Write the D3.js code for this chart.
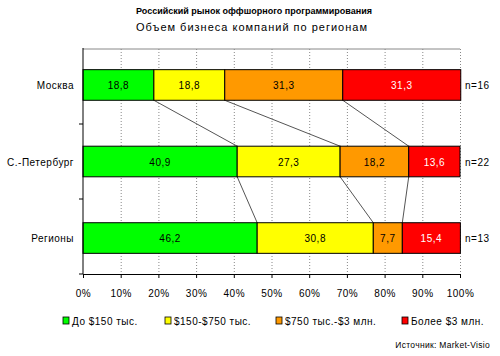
<!DOCTYPE html>
<html><head><meta charset="utf-8">
<script src="https://cdn.jsdelivr.net/npm/d3@7"></script>
<style>body{margin:0;background:#fff}text{font-family:Arial,"Liberation Sans",sans-serif}</style>
</head><body>
<svg id="c" width="500" height="356"></svg>
<script>
const categories = ["Москва", "С.-Петербург", "Регионы"];
const nLabels = ["n=16", "n=22", "n=13"];
const seriesNames = ["До $150 тыс.", "$150-$750 тыс.", "$750 тыс.-$3 млн.", "Более $3 млн."];
const seriesColors = ["#00ff00", "#ffff00", "#ff9900", "#ff0000"];
const valUpTo150 = [18.8, 40.9, 46.2];
const val150to750 = [18.8, 27.3, 30.8];
const val750to3m = [31.3, 18.2, 7.7];
const valOver3m = [31.3, 13.6, 15.4];
const xTicks = [0,10,20,30,40,50,60,70,80,90,100];

const series = [valUpTo150, val150to750, val750to3m, valOver3m];
const svg = d3.select("#c");
const x = d3.scaleLinear().domain([0,100]).range([83,460]);
const y = d3.scaleBand().domain(categories).range([49,274]).paddingInner(0.6).paddingOuter(0.27);
const yOuter = d3.scaleBand().domain(categories).range([49,274]);
const LS = "0.5px";

// titles
svg.append("text").attr("x",254).attr("y",14).attr("text-anchor","middle").attr("font-size",9).attr("font-weight","bold").text("Российский рынок оффшорного программирования");
svg.append("text").attr("x",252).attr("y",31).attr("text-anchor","middle").attr("font-size",11).attr("letter-spacing","1px").text("Объем бизнеса компаний по регионам");

// top border
svg.append("line").attr("x1",x(0)).attr("x2",x(100)).attr("y1",49).attr("y2",49).attr("stroke","#888");
// gridlines
xTicks.slice(1).forEach(t=>{
  svg.append("line").attr("x1",x(t)+0.5).attr("x2",x(t)+0.5).attr("y1",49).attr("y2",274)
    .attr("stroke","#888").attr("stroke-dasharray","1,2");
});

// stacked data
const stacks = categories.map((c,i)=>{
  let acc=0; return series.map((s,j)=>{const d={cat:c,j,v:s[i],x0:acc,x1:acc+s[i]}; acc+=s[i]; return d;});
});

// connector lines
for(let i=0;i<categories.length-1;i++){
  for(let j=0;j<3;j++){
    svg.append("line")
      .attr("x1",x(stacks[i][j].x1)).attr("y1",y(categories[i])+y.bandwidth())
      .attr("x2",x(stacks[i+1][j].x1)).attr("y2",y(categories[i+1]))
      .attr("stroke","#555").attr("stroke-width",1);
  }
}

// bars
stacks.forEach(row=>{
  row.forEach(d=>{
    svg.append("rect").attr("x",x(d.x0)).attr("y",y(d.cat)).attr("width",x(d.x1)-x(d.x0)).attr("height",y.bandwidth())
      .attr("fill",seriesColors[d.j]).attr("stroke","#000").attr("stroke-width",1);
    svg.append("text").attr("x",(x(d.x0)+x(d.x1))/2).attr("y",y(d.cat)+y.bandwidth()/2+4)
      .attr("text-anchor","middle").attr("font-size",10).attr("letter-spacing",LS).attr("fill",d.j===3?"#fff":"#000")
      .text(d3.format(".1f")(d.v).replace(".",","));
  });
});

// axes
const xAxis = svg.append("g").attr("transform","translate(0,274)")
  .call(d3.axisBottom(x).tickValues(xTicks).tickSize(4).tickFormat(d=>d+"%"));
xAxis.select(".domain").attr("stroke","#000");
xAxis.selectAll("text").attr("font-size",10).attr("letter-spacing",LS).attr("dy","1.6em").attr("fill","#000");
svg.append("line").attr("x1",x(0)).attr("x2",x(0)).attr("y1",48).attr("y2",274).attr("stroke","#000");
[1,2].forEach(i=>{
  const yy=yOuter(categories[i]);
  svg.append("line").attr("x1",x(0)-4).attr("x2",x(0)).attr("y1",yy).attr("y2",yy).attr("stroke","#000");
});
svg.append("line").attr("x1",x(0)-4).attr("x2",x(0)).attr("y1",274).attr("y2",274).attr("stroke","#000");

// category labels
categories.forEach((c,i)=>{
  svg.append("text").attr("x",74).attr("y",y(c)+y.bandwidth()/2+4).attr("text-anchor","end").attr("font-size",10).attr("letter-spacing",LS).text(c);
  svg.append("text").attr("x",465).attr("y",y(c)+y.bandwidth()/2+4).attr("font-size",10).attr("letter-spacing",LS).text(nLabels[i]);
});

// legend
const legX=[63,165,276,402];
seriesNames.forEach((n,j)=>{
  svg.append("rect").attr("x",legX[j]).attr("y",317).attr("width",6).attr("height",7).attr("fill",seriesColors[j]).attr("stroke","#000").attr("stroke-width",0.8);
  svg.append("text").attr("x",legX[j]+9).attr("y",325).attr("font-size",10).attr("letter-spacing",LS).text(n);
});
svg.append("text").attr("x",490).attr("y",348).attr("text-anchor","end").attr("font-size",8.5).attr("letter-spacing","0.3px").text("Источник: Market-Visio");
</script>
</body></html>
